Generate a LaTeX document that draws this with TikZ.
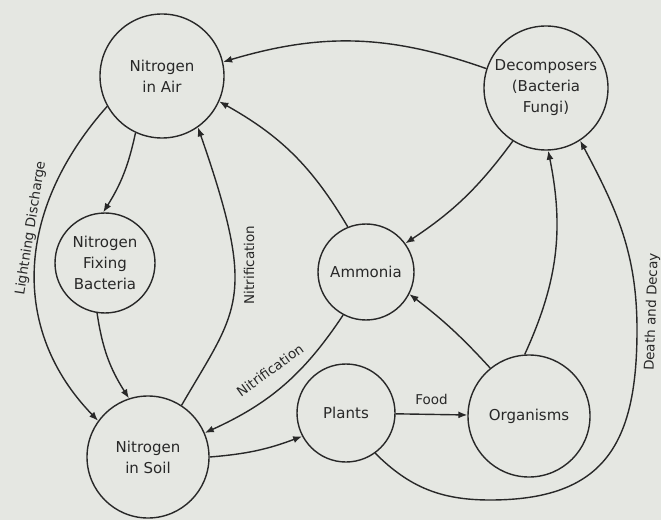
\documentclass[tikz,border=0pt]{standalone}
\usepackage{fontspec}
\setmainfont{DejaVu Sans}
\usetikzlibrary{arrows.meta}

\definecolor{paper}{RGB}{229,231,226}
\definecolor{ink}{RGB}{40,40,40}

\begin{document}
\begin{tikzpicture}[x=1pt,y=1pt,
    pool/.style={circle,draw=ink,line width=1.4pt,inner sep=0pt,align=center,
      text=ink,font=\fontsize{15}{21}\selectfont},
    flow/.style={draw=ink,line width=1.4pt,-{Latex[length=9pt,width=7pt]}},
    lbl/.style={text=ink,font=\fontsize{13.5}{15}\selectfont,inner sep=1pt}]
  \fill [paper] (0,0) rectangle (661,520);
  \useasboundingbox (0,0) rectangle (661,520);
  % the seven pools
  \node [pool,minimum size=124pt] (air) at (162,444) {Nitrogen\\in Air};
  \node [pool,minimum size=124pt] (dec) at (546,432) {Decomposers\\(Bacteria\\Fungi)};
  \node [pool,minimum size=100pt] (fix) at (105,257) {Nitrogen\\Fixing\\Bacteria};
  \node [pool,minimum size=96pt] (amm) at (366,248) {Ammonia};
  \node [pool,minimum size=122pt] (soil) at (148,63) {Nitrogen\\in Soil};
  \node [pool,minimum size=98pt] (plants) at (346,107) {Plants};
  \node [pool,minimum size=122pt] (org) at (529,104) {Organisms};
  % the flows
  \draw [flow] (dec.162) to [bend right=18] (air.13);
  \draw [flow] (air.245) to [bend left=10] (fix.92);
  \draw [flow] (air.209) .. controls (15,310) and (10,190) .. (soil.144);
  \draw [flow] (fix.261) to [bend right=12] (soil.108);
  \draw [flow] (soil.57) .. controls (238,212) and (258,220) .. (air.305);
  \draw [flow] (amm.112) to [bend right=15] (air.336);
  \draw [flow] (amm.242) to [bend left=16] (soil.23);
  \draw [flow] (soil.0) to [bend right=8] (plants.208);
  \draw [flow] (plants) -- node [lbl,above=8pt] {Food} (org);
  \draw [flow] (org.129) to [bend right=5] (amm.333);
  \draw [flow] (dec.238) to [bend left=10] (amm.36);
  \draw [flow] (org.94) to [bend right=18] (dec.272);
  \draw [flow] (plants.306) to [out=-45,in=180] (490,20)
    to [out=0,in=-90,looseness=1.3] (637,190) to [out=90,in=-62] (dec.303);
  % labels on the flows
  \node [lbl,rotate=81] (lightning) at (31,292) {Lightning Discharge};
  \node [lbl,rotate=90] (nitrup) at (249,255) {Nitrification};
  \node [lbl,rotate=36] (nitrdown) at (270,150) {Nitrification};
  \node [lbl,rotate=88] (death) at (652,208) {Death and Decay};
\end{tikzpicture}
\end{document}
